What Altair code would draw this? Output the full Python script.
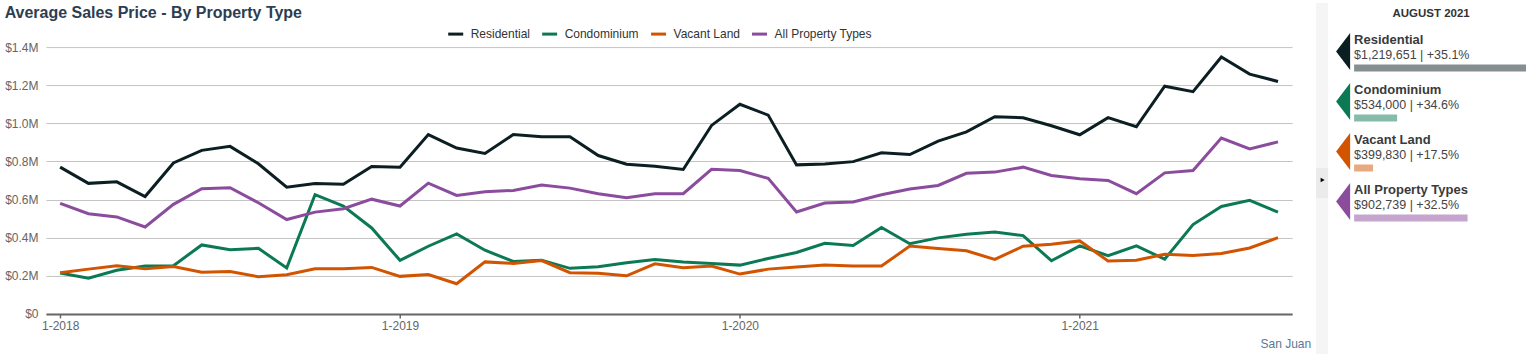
import altair as alt
import pandas as pd

# ---------------- data ----------------
property_types = ["Residential", "Condominium", "Vacant Land", "All Property Types"]
line_colors = ["#0b1e22", "#0b7a54", "#d35400", "#8b4c9e"]

# monthly average sales price, in millions of dollars, Jan 2018 .. Aug 2021
residential = [0.770, 0.685, 0.693, 0.616, 0.792, 0.858, 0.879, 0.788, 0.665, 0.684, 0.680, 0.773,
               0.770, 0.941, 0.870, 0.842, 0.941, 0.930, 0.930, 0.831, 0.785, 0.775, 0.758, 0.989,
               1.100, 1.043, 0.782, 0.786, 0.799, 0.845, 0.836, 0.907, 0.955, 1.035, 1.029, 0.987,
               0.940, 1.030, 0.982, 1.195, 1.166, 1.348, 1.258, 1.2197]
condominium = [0.215, 0.187, 0.229, 0.251, 0.253, 0.362, 0.337, 0.344, 0.241, 0.626, 0.566, 0.451,
               0.281, 0.355, 0.420, 0.334, 0.275, 0.282, 0.239, 0.247, 0.268, 0.286, 0.272, 0.265,
               0.256, 0.291, 0.322, 0.371, 0.359, 0.453, 0.368, 0.399, 0.418, 0.430, 0.411, 0.279,
               0.357, 0.305, 0.357, 0.287, 0.469, 0.564, 0.596, 0.534]
vacant_land = [0.216, 0.235, 0.253, 0.237, 0.249, 0.219, 0.223, 0.195, 0.205, 0.237, 0.237, 0.244,
               0.197, 0.207, 0.158, 0.273, 0.265, 0.280, 0.216, 0.213, 0.200, 0.263, 0.242, 0.251,
               0.209, 0.235, 0.246, 0.256, 0.251, 0.251, 0.356, 0.343, 0.331, 0.286, 0.355, 0.366,
               0.383, 0.278, 0.282, 0.313, 0.307, 0.317, 0.346, 0.3998]
all_types = [0.580, 0.526, 0.509, 0.456, 0.575, 0.657, 0.662, 0.583, 0.495, 0.534, 0.552, 0.602,
             0.566, 0.686, 0.622, 0.641, 0.648, 0.676, 0.660, 0.631, 0.610, 0.631, 0.631, 0.759,
             0.752, 0.711, 0.535, 0.582, 0.587, 0.625, 0.655, 0.674, 0.738, 0.744, 0.770, 0.726,
             0.709, 0.700, 0.631, 0.740, 0.752, 0.923, 0.866, 0.9027]

x_tick_index = [0, 12, 24, 36]
x_tick_labels = ["1-2018", "1-2019", "1-2020", "1-2021"]
y_tick_values = [0, 200000, 400000, 600000, 800000, 1000000, 1200000, 1400000]

panel_title = "AUGUST 2021"
latest_values = [1219651, 534000, 399830, 902739]
latest_changes = ["+35.1%", "+34.6%", "+17.5%", "+32.5%"]
bar_share = [1.0, 0.25, 0.11, 0.66]
region_label = "San Juan"
chart_title = "Average Sales Price - By Property Type"

FONT = "Liberation Sans"

# ---------------- main chart ----------------
rows = []
for t, series in zip(property_types, [residential, condominium, vacant_land, all_types]):
    for i, v in enumerate(series):
        rows.append({"idx": i, "type": t, "price": v * 1_000_000})
df = pd.DataFrame(rows)

W, H = 1247, 267

label_array = "[" + ",".join(f"'{s}'" for s in x_tick_labels) + "]"
x_enc = alt.X(
    "idx:Q",
    scale=alt.Scale(domain=[-0.5, 43.5], nice=False, zero=False),
    axis=alt.Axis(values=x_tick_index, labelExpr=f"{label_array}[datum.value / 12]",
                  grid=False, domainColor="#666666", domainWidth=2, tickColor="#666666",
                  tickSize=4, tickWidth=1.5, labelColor="#666666", labelFontSize=12,
                  labelPadding=3, labelFont=FONT, title=None),
)
y_enc = alt.Y(
    "price:Q",
    scale=alt.Scale(domain=[0, 1400000], nice=False),
    axis=alt.Axis(values=y_tick_values,
                  labelExpr="datum.value == 0 ? '$0' : '$' + format(datum.value / 1000000, '.1f') + 'M'",
                  domain=False, ticks=False, gridColor="#c4c4c4", gridWidth=1,
                  labelColor="#666666", labelFontSize=12, labelPadding=8, labelFont=FONT, title=None),
)
color_enc = alt.Color(
    "type:N",
    scale=alt.Scale(domain=property_types, range=line_colors),
    legend=alt.Legend(orient="none", legendX=401, legendY=-22, direction="horizontal", title=None,
                      symbolType="stroke", symbolStrokeWidth=3, symbolSize=225,
                      labelFontSize=12, labelColor="#333333", labelFont=FONT,
                      columnPadding=5, labelOffset=6),
)

lines = alt.Chart(df).mark_line(strokeWidth=3).encode(
    x=x_enc, y=y_enc, color=color_enc, order="idx:Q"
)

region = alt.Chart(pd.DataFrame({"label": [region_label]})).mark_text(
    align="right", baseline="alphabetic", fontSize=12, color="#5b7896", font=FONT
).encode(x=alt.value(W + 19), y=alt.value(H + 34), text="label:N")

main = alt.layer(lines, region).properties(
    width=W, height=H,
    title=alt.TitleParams(chart_title, anchor="start", frame="bounds", fontSize=16,
                          fontWeight="bold", color="#2c3e50", font=FONT, offset=4),
)

# ---------------- side panel ----------------
side_df = pd.DataFrame({
    "type": property_types,
    "summary": [f"${v:,} | {c}" for v, c in zip(latest_values, latest_changes)],
    "share": bar_share,
})
side_base = alt.Chart(side_df)
yb = alt.Y("type:N", sort=property_types,
           scale=alt.Scale(domain=property_types, paddingInner=0, paddingOuter=0), axis=None)
side_color = alt.Color("type:N", scale=alt.Scale(domain=property_types, range=line_colors), legend=None)

one = pd.DataFrame({"label": [panel_title]})
strip = alt.Chart(one).mark_rect(color="#f5f5f5").encode(
    x=alt.value(-38), x2=alt.value(-26), y=alt.value(-44), y2=alt.value(307))
strip_mid = alt.Chart(one).mark_rect(color="#ebebeb").encode(
    x=alt.value(-38), x2=alt.value(-26), y=alt.value(121), y2=alt.value(151))
handle = alt.Chart(one).mark_point(shape="triangle-right", filled=True, color="black",
                                   size=22, opacity=1).encode(x=alt.value(-31.5), y=alt.value(133))
head = alt.Chart(one).mark_text(fontSize=11.5, fontWeight="bold", color="#333333", font=FONT,
                                baseline="middle").encode(
    x=alt.value(77), y=alt.value(-33), text="label:N")

arrows = side_base.mark_point(shape="M 0.38 -1 L -0.38 0 L 0.38 1 Z", filled=True, size=1369,
                              opacity=1, strokeWidth=0, yOffset=-20.5).encode(
    x=alt.value(-11), y=yb, color=side_color)
names = side_base.mark_text(align="left", baseline="alphabetic", fontSize=13, fontWeight="bold",
                            color="#3a3a3a", font=FONT, dy=-28).encode(
    x=alt.value(0), y=yb, text="type:N")
summaries = side_base.mark_text(align="left", baseline="alphabetic", fontSize=12.5,
                                color="#444444", font=FONT, dy=-13).encode(
    x=alt.value(0), y=yb, text="summary:N")
bars = side_base.mark_rule(strokeWidth=7, opacity=0.5, yOffset=-4, strokeCap="butt").transform_calculate(
    zero="0").encode(
    x=alt.X("zero:Q", scale=alt.Scale(domain=[0, 1], nice=False), axis=None),
    x2="share:Q", y=yb, color=side_color)

side = alt.layer(strip, strip_mid, handle, head, arrows, names, summaries, bars).properties(
    width=172, height=200)

chart = alt.hconcat(main, side, spacing=5).resolve_scale(color="independent").properties(
    padding={"left": 4, "top": 3, "right": 0, "bottom": 0}
).configure(font=FONT, view=alt.ViewConfig(stroke="transparent", strokeWidth=0))

chart.save("out.html", embed_options={"renderer": "svg", "actions": False})
